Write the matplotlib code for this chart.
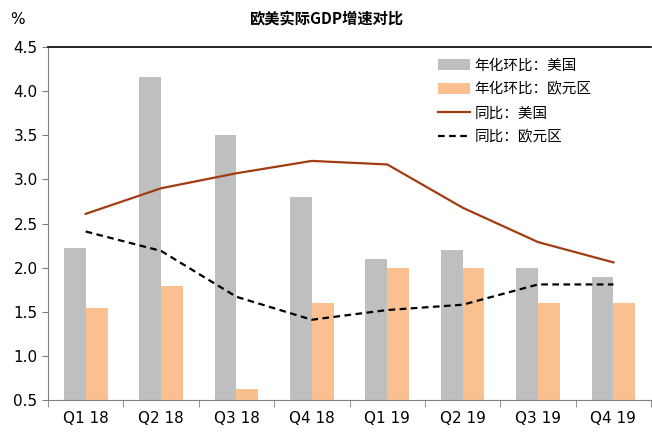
import matplotlib
matplotlib.use("Agg")
import matplotlib.pyplot as plt
import numpy as np

plt.rcParams['font.family'] = ['DejaVu Sans', 'Noto Sans CJK SC']

categories = ["Q1 18", "Q2 18", "Q3 18", "Q4 18", "Q1 19", "Q2 19", "Q3 19", "Q4 19"]
us_qoq = [2.22, 4.16, 3.50, 2.80, 2.10, 2.20, 2.00, 1.90]
ez_qoq = [1.54, 1.79, 0.62, 1.60, 2.00, 2.00, 1.60, 1.60]
us_yoy = [2.61, 2.90, 3.07, 3.21, 3.17, 2.68, 2.29, 2.06]
ez_yoy = [2.41, 2.19, 1.67, 1.41, 1.52, 1.58, 1.81, 1.81]
yticks = [0.5, 1.0, 1.5, 2.0, 2.5, 3.0, 3.5, 4.0, 4.5]

fig = plt.figure(figsize=(6.52, 4.32), dpi=100)
ax = fig.add_axes([0.0736, 0.074, 0.925, 0.817])

x = np.arange(len(categories))
w = 0.29
b1 = ax.bar(x - w/2, us_qoq, width=w, color="#BFBFBF", label="年化环比：美国")
b2 = ax.bar(x + w/2, ez_qoq, width=w, color="#FAC090", label="年化环比：欧元区")
l1, = ax.plot(x, us_yoy, color="#A23C12", lw=1.6, label="同比：美国")
l2, = ax.plot(x, ez_yoy, color="black", lw=1.6, ls=(0, (3, 2)), label="同比：欧元区")

ax.set_ylim(0.5, 4.5)
ax.set_xlim(-0.5, len(categories) - 0.5)
ax.set_yticks(yticks)
ax.set_yticklabels([f"{v:.1f}" for v in yticks], fontsize=11)
ax.set_xticks(x)
ax.set_xticklabels(categories, fontsize=11)
ax.set_xticks(np.arange(len(categories) + 1) - 0.5, minor=True)
ax.tick_params(axis='x', which='major', length=0, pad=8)
ax.tick_params(axis='x', which='minor', length=5, color="#808080")
ax.tick_params(axis='y', length=4, color="#808080", direction='out')

ax.spines['right'].set_visible(False)
ax.spines['top'].set_color("black")
ax.spines['top'].set_linewidth(1.2)
ax.spines['left'].set_color("#808080")
ax.spines['bottom'].set_color("#808080")

ax.legend(handles=[b1, b2, l1, l2], loc="upper left", bbox_to_anchor=(0.625, 1.005),
          frameon=False, prop={'family': ['Noto Sans CJK SC'], 'size': 10.5},
          handlelength=2.2, handleheight=0.8, labelspacing=0.68, handletextpad=0.3)

fig.text(0.5, 0.955, "欧美实际GDP增速对比", ha="center", va="center",
         fontsize=11, fontweight="bold", family=['Noto Sans CJK SC'])
fig.text(0.015, 0.955, "%", ha="left", va="center", fontsize=11)

fig.savefig("out.png", dpi=100)
